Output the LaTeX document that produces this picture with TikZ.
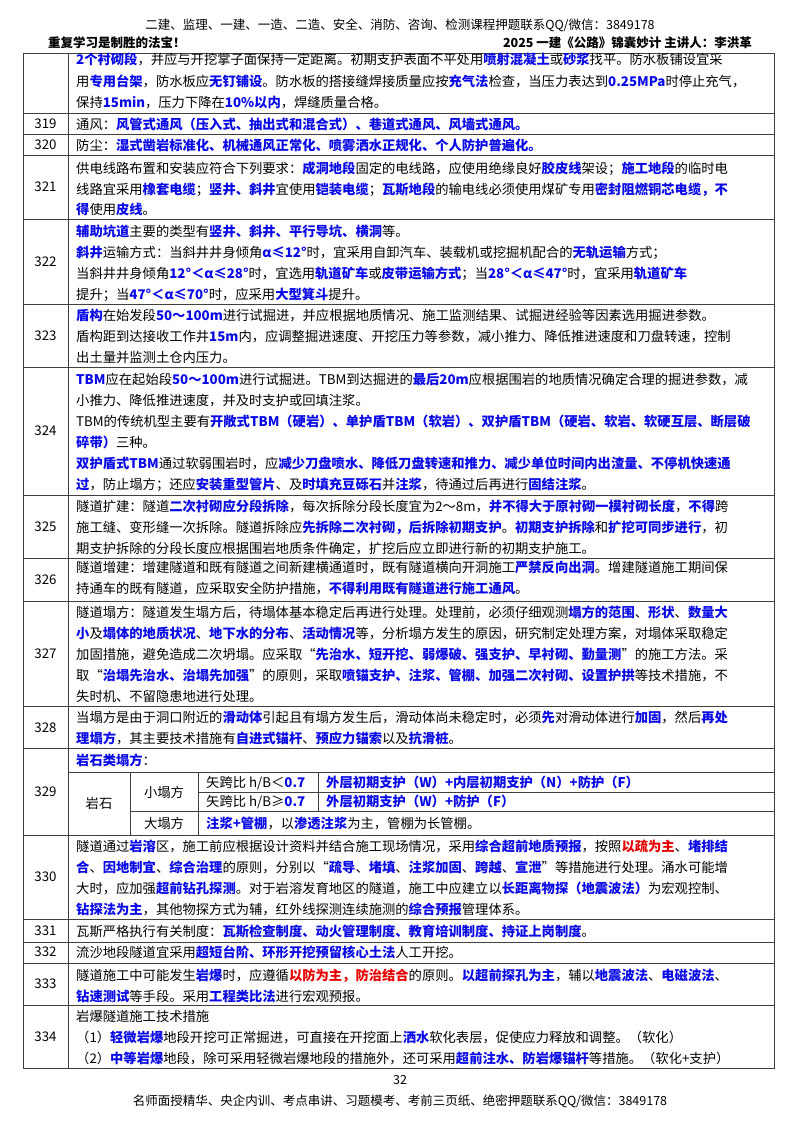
\documentclass[tikz,border=0pt]{standalone}
\usepackage{fontspec}
\setmainfont{Noto Sans CJK SC}
\usetikzlibrary{calc}
\definecolor{cb}{RGB}{10,10,230}
\definecolor{cr}{RGB}{230,0,0}
\newcommand\B[1]{{\color{cb}\bfseries #1}}
\newcommand\R[1]{{\color{cr}\bfseries #1}}
\newcounter{lnc}
\XeTeXlinebreaklocale "zh"
\XeTeXlinebreakskip=0pt plus 2pt
\newcommand\JL[2]{\stepcounter{lnc}\node[txt] (t\arabic{lnc}) at (76,#1) {\makebox[694pt][s]{#2}};}
\newcommand\NL[2]{\stepcounter{lnc}\node[txt] (t\arabic{lnc}) at (76,#1) {#2};}
\newcommand\NUM[3]{\node[num] (#1) at (45.5,#2) {#3};}
\tikzset{txt/.style={anchor=base west,inner sep=0pt,font=\fontsize{13.3}{16}\selectfont},
 num/.style={inner sep=0pt,font=\fontsize{13.3}{16}\selectfont},
 grid/.style={draw=black!75,line width=0.8pt}}
\begin{document}
\begin{tikzpicture}[x=1pt,y=-1pt]
\useasboundingbox (0,0) rectangle (800,1132);
% header
\node[inner sep=0,font=\fontsize{12.5}{14}\selectfont] (h1) at (400,25) {二建、监理、一建、一造、二造、安全、消防、咨询、检测课程押题联系QQ/微信：3849178};
\node[inner sep=0,anchor=west,font=\fontsize{12.5}{14}\selectfont\bfseries] (h2) at (48,43) {重复学习是制胜的法宝！};
\node[inner sep=0,anchor=east,font=\fontsize{12.5}{14}\selectfont\bfseries] (h3) at (752,43) {2025 一建《公路》锦囊妙计\ 主讲人：李洪革};
\node[inner sep=0,font=\fontsize{12.5}{14}\selectfont] (pg) at (400,1080) {32};
\node[inner sep=0,font=\fontsize{12.5}{14}\selectfont] (ft) at (400,1101) {名师面授精华、央企内训、考点串讲、习题模考、考前三页纸、绝密押题联系QQ/微信：3849178};
% grid
\draw[grid] (23,53) rectangle (774,1068);
\draw[grid] (68,53) -- (68,1068);
\foreach \y in {113,134,155,219,304,367,495,558,601,706,748,835,919,942,963,1005}
  \draw[grid] (23,\y) -- (774,\y);
\draw[grid] (68,772) -- (774,772);
\draw[grid] (198,792) -- (774,792);
\draw[grid] (130,811) -- (774,811);
\draw[grid] (130,772) -- (130,835);
\draw[grid] (198,772) -- (198,835);
\draw[grid] (318,772) -- (318,811);
% numbers
\NUM{n319}{124}{319}
\NUM{n320}{145}{320}
\NUM{n321}{187}{321}
\NUM{n322}{262}{322}
\NUM{n323}{336}{323}
\NUM{n324}{431}{324}
\NUM{n325}{527}{325}
\NUM{n326}{580}{326}
\NUM{n327}{654}{327}
\NUM{n328}{728}{328}
\NUM{n329}{792}{329}
\NUM{n330}{877}{330}
\NUM{n331}{931}{331}
\NUM{n332}{952}{332}
\NUM{n333}{984}{333}
\NUM{n334}{1037}{334}
% top
\JL{65}{\B{2个衬砌段}，并应与开挖掌子面保持一定距离。初期支护表面不平处用\B{喷射混凝土}或\B{砂浆}找平。防水板铺设宜采}
\JL{86}{用\B{专用台架}，防水板应\B{无钉铺设}。防水板的搭接缝焊接质量应按\B{充气法}检查，当压力表达到\B{0.25MPa}时停止充气，}
\NL{107}{保持\B{15min}，压力下降在\B{10\%以内}，焊缝质量合格。}
\NL{129}{通风：\B{风管式通风（压入式、抽出式和混合式）、巷道式通风、风墙式通风。}}
\NL{150}{防尘：\B{湿式凿岩标准化、机械通风正常化、喷雾洒水正规化、个人防护普遍化。}}
\JL{173}{供电线路布置和安装应符合下列要求：\B{成洞地段}固定的电线路，应使用绝缘良好\B{胶皮线}架设；\B{施工地段}的临时电}
\JL{194}{线路宜采用\B{橡套电缆}；\B{竖井、斜井}宜使用\B{铠装电缆}；\B{瓦斯地段}的输电线必须使用煤矿专用\B{密封阻燃铜芯电缆，不}}
\NL{214}{\B{得}使用\B{皮线}。}
\NL{236}{\B{辅助坑道}主要的类型有\B{竖井、斜井、平行导坑、横洞}等。}
\NL{257}{\B{斜井}运输方式：当斜井井身倾角\B{α≤12°}时，宜采用自卸汽车、装载机或挖掘机配合的\B{无轨运输}方式；}
\JL{278}{当斜井井身倾角\B{12°＜α≤28°}时，宜选用\B{轨道矿车}或\B{皮带运输方式}；当\B{28°＜α≤47°}时，宜采用\B{轨道矿车}}
\NL{299}{提升；当\B{47°＜α≤70°}时，应采用\B{大型箕斗}提升。}
\NL{320}{\B{盾构}在始发段\B{50～100m}进行试掘进，并应根据地质情况、施工监测结果、试掘进经验等因素选用掘进参数。}
\JL{341}{盾构距到达接收工作井\B{15m}内，应调整掘进速度、开挖压力等参数，减小推力、降低推进速度和刀盘转速，控制}
\NL{362}{出土量并监测土仓内压力。}
\JL{384}{\B{TBM}应在起始段\B{50～100m}进行试掘进。TBM到达掘进的\B{最后20m}应根据围岩的地质情况确定合理的掘进参数，减}
\NL{405}{小推力、降低推进速度，并及时支护或回填注浆。}
\JL{426}{TBM的传统机型主要有\B{开敞式TBM（硬岩）、单护盾TBM（软岩）、双护盾TBM（硬岩、软岩、软硬互层、断层破}}
\NL{447}{\B{碎带）}三种。}
\JL{468}{\B{双护盾式TBM}通过软弱围岩时，应\B{减少刀盘喷水、降低刀盘转速和推力、减少单位时间内出渣量、不停机快速通}}
\NL{489}{\B{过}，防止塌方；还应\B{安装重型管片}、及\B{时填充豆砾石}并\B{注浆}，待通过后再进行\B{固结注浆}。}
\JL{511}{隧道扩建：隧道\B{二次衬砌应分段拆除}，每次拆除分段长度宜为2～8m，\B{并不得大于原衬砌一模衬砌长度}，\B{不得}跨}
\JL{532}{施工缝、变形缝一次拆除。隧道拆除应\B{先拆除二次衬砌，后拆除初期支护}。\B{初期支护拆除}和\B{扩挖可同步进行}，初}
\NL{553}{期支护拆除的分段长度应根据围岩地质条件确定，扩挖后应立即进行新的初期支护施工。}
\JL{572}{隧道增建：增建隧道和既有隧道之间新建横通道时，既有隧道横向开洞施工\B{严禁反向出洞}。增建隧道施工期间保}
\NL{593}{持通车的既有隧道，应采取安全防护措施，\B{不得利用既有隧道进行施工通风}。}
\JL{617}{隧道塌方：隧道发生塌方后，待塌体基本稳定后再进行处理。处理前，必须仔细观测\B{塌方的范围}、\B{形状}、\B{数量大}}
\JL{638}{\B{小}及\B{塌体的地质状况}、\B{地下水的分布}、\B{活动情况}等，分析塌方发生的原因，研究制定处理方案，对塌体采取稳定}
\JL{659}{加固措施，避免造成二次坍塌。应采取“\B{先治水、短开挖、弱爆破、强支护、早衬砌、勤量测}”的施工方法。采}
\JL{680}{取“\B{治塌先治水、治塌先加强}”的原则，采取\B{喷锚支护、注浆、管棚、加强二次衬砌、设置护拱}等技术措施，不}
\NL{701}{失时机、不留隐患地进行处理。}
\JL{722}{当塌方是由于洞口附近的\B{滑动体}引起且有塌方发生后，滑动体尚未稳定时，必须\B{先}对滑动体进行\B{加固}，然后\B{再处}}
\NL{743}{\B{理塌方}，其主要技术措施有\B{自进式锚杆}、\B{预应力锚索}以及\B{抗滑桩}。}
\NL{765}{\B{岩石类塌方}：}
\node[num] (ys) at (99,803) {岩石};
\node[num] (xt) at (164,792) {小塌方};
\node[num] (dt) at (164,823) {大塌方};
\node[txt] (r1a) at (206,787) {矢跨比 h/B＜\B{0.7}};
\node[txt] (r2a) at (206,806) {矢跨比 h/B≥\B{0.7}};
\node[txt] (r1b) at (326,787) {\B{外层初期支护（W）+内层初期支护（N）+防护（F）}};
\node[txt] (r2b) at (326,806) {\B{外层初期支护（W）+防护（F）}};
\node[txt] (r3) at (206,828) {\B{注浆+管棚}，以\B{渗透注浆}为主，管棚为长管棚。};
\JL{851}{隧道通过\B{岩溶}区，施工前应根据设计资料并结合施工现场情况，采用\B{综合超前地质预报}，按照\R{以疏为主}、\B{堵排结}}
\JL{872}{\B{合}、\B{因地制宜}、\B{综合治理}的原则，分别以“\B{疏导}、\B{堵填}、\B{注浆加固}、\B{跨越}、\B{宣泄}”等措施进行处理。涌水可能增}
\JL{893}{大时，应加强\B{超前钻孔探测}。对于岩溶发育地区的隧道，施工中应建立以\B{长距离物探（地震波法）}为宏观控制、}
\NL{914}{\B{钻探法为主}，其他物探方式为辅，红外线探测连续施测的\B{综合预报}管理体系。}
\NL{936}{瓦斯严格执行有关制度：\B{瓦斯检查制度、动火管理制度、教育培训制度、持证上岗制度}。}
\NL{957}{流沙地段隧道宜采用\B{超短台阶、环形开挖预留核心土法}人工开挖。}
\JL{980}{隧道施工中可能发生\B{岩爆}时，应遵循\R{以防为主，防治结合}的原则。\B{以超前探孔为主}，辅以\B{地震波法}、\B{电磁波法}、}
\NL{1001}{\B{钻速测试}等手段。采用\B{工程类比法}进行宏观预报。}
\NL{1021}{岩爆隧道施工技术措施}
\NL{1042}{（1）\B{轻微岩爆}地段开挖可正常掘进，可直接在开挖面上\B{洒水}软化表层，促使应力释放和调整。（软化）}
\NL{1063}{（2）\B{中等岩爆}地段，除可采用轻微岩爆地段的措施外，还可采用\B{超前注水、防岩爆锚杆}等措施。（软化+支护）}
\end{tikzpicture}
\end{document}
